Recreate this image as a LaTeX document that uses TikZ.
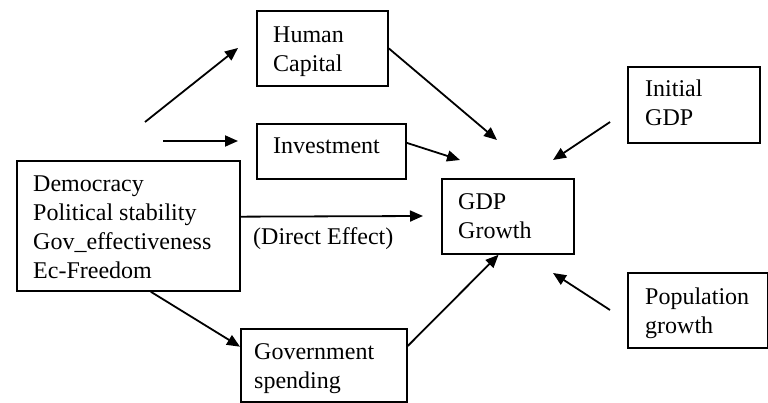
\documentclass[tikz,border=0pt]{standalone}
\usepackage{fontspec}
\setmainfont{Liberation Serif}
\usetikzlibrary{arrows.meta,calc}
\begin{document}
\begin{tikzpicture}[x=1pt,y=-1pt,
  box/.style={draw,line width=1.8pt,rectangle,inner sep=0pt,anchor=north west},
  txt/.style={anchor=base west,inner sep=0pt,font=\fontsize{24}{29}\selectfont,align=left},
  arr/.style={line width=1.8pt,-{Triangle[length=13pt,width=11pt]}}]
\useasboundingbox (0,0) rectangle (768,403);
% boxes
\node[box,minimum width=131pt,minimum height=75pt] (hc) at (256,10) {};
\node[box,minimum width=149pt,minimum height=55pt] (inv) at (256,123) {};
\node[box,minimum width=223pt,minimum height=130pt] (lb) at (16,160) {};
\node[box,minimum width=166pt,minimum height=73pt] (gov) at (240,328) {};
\node[box,minimum width=132pt,minimum height=75pt] (gdp) at (441,178) {};
\node[box,minimum width=132pt,minimum height=76pt] (ini) at (627,66) {};
\node[box,minimum width=140pt,minimum height=75pt] (pop) at (627,272) {};
% texts (anchor: baseline of last line)
\node[txt] (thc) at (273,72) {Human\\Capital};
\node[txt] (tinv) at (273,154) {Investment};
\node[txt] (tlb) at (33,279) {Democracy\\Political stability\\Gov\_effectiveness\\Ec-Freedom};
\node[txt] (tgov) at (254,388) {Government\\spending};
\node[txt] (tgdp) at (458,239) {GDP\\Growth};
\node[txt] (tini) at (645,126) {Initial\\GDP};
\node[txt] (tpop) at (645,333) {Population\\growth};
\node[txt] (tde) at (253,245) {(Direct Effect)};
% free coordinates
\coordinate (a1s) at (145,122);
\coordinate (a1e) at (238,48);
\coordinate (a2s) at (163,141);
\coordinate (a2e) at (238,141);
\coordinate (hct) at (497,140);
\coordinate (invt) at (460,160);
\coordinate (det) at (423,216);
\coordinate (inis) at (610,122);
\coordinate (init) at (553,160);
\coordinate (pops) at (610,310);
\coordinate (popt) at (553,273);
% connectors
\draw[arr] (a1s) -- (a1e);
\draw[arr] (a2s) -- (a2e);
\draw[arr] (hc.east) -- (hct);
\draw[arr] ($(inv.north east)!0.35!(inv.south east)$) -- (invt);
\draw[arr] ($(lb.north east)!0.43!(lb.south east)$) -- (det);
\draw[arr] ($(lb.south west)!0.6!(lb.south east)$) -- ($(gov.north west)!0.25!(gov.south west)$);
\draw[arr] ($(gov.north east)!0.24!(gov.south east)$) -- ($(gdp.south west)!0.43!(gdp.south east)$);
\draw[arr] (inis) -- (init);
\draw[arr] (pops) -- (popt);
\end{tikzpicture}
\end{document}
